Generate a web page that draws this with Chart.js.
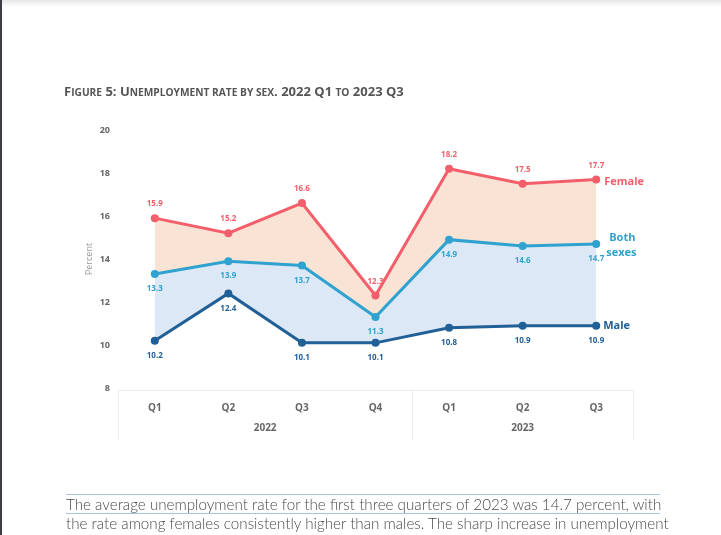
<!DOCTYPE html>
<html>
<head>
<meta charset="utf-8">
<script src="https://cdn.jsdelivr.net/npm/chart.js@4.4.1/dist/chart.umd.min.js"></script>
<style>
  html, body { margin: 0; padding: 0; background: #fff; }
  body { width: 721px; height: 535px; position: relative; overflow: hidden; }
  .edge-left { position: absolute; left: 0; top: 0; width: 2px; height: 535px; background: #3b3e42; }
  .edge-top { position: absolute; left: 0; top: 0; width: 721px; height: 7px; background: linear-gradient(#e6e6e6, #fff); }
  #chart { position: absolute; left: 0; top: 0; }
  .title { position: absolute; left: 64px; top: 82px; font-family: "Open Sans", sans-serif; font-weight: 700;
           font-size: 13px; color: #555; white-space: nowrap; }
  .title .sc { font-size: 10.2px; text-transform: uppercase; }
  .para { position: absolute; left: 66px; width: 594px; font-family: "Lato", sans-serif; font-weight: 300;
          font-size: 15.2px; color: #4a4a4a; white-space: nowrap; text-align: justify; text-align-last: justify;
          border-top: 1px solid #a8c3da; line-height: 18px; }
</style>
</head>
<body>
<div class="edge-top"></div>
<div class="edge-left"></div>
<canvas id="chart" width="721" height="535"></canvas>
<div class="title">F<span class="sc">igure</span> 5: U<span class="sc">nemployment rate by sex</span>. 2022 Q1 <span class="sc">to</span> 2023 Q3</div>
<div class="para" style="top:494px">The average unemployment rate for the first three quarters of 2023 was 14.7 percent, with</div>
<div class="para" style="top:513px">the rate among females consistently higher than males. The sharp increase in unemployment</div>
<script>
// data
const quarters = ['Q1', 'Q2', 'Q3', 'Q4', 'Q1', 'Q2', 'Q3'];
const yearLabels = ['2022', '2023'];
const quartersPerYear = [4, 3];
const female = [15.9, 15.2, 16.6, 12.3, 18.2, 17.5, 17.7];
const bothSexes = [13.3, 13.9, 13.7, 11.3, 14.9, 14.6, 14.7];
const male = [10.2, 12.4, 10.1, 10.1, 10.8, 10.9, 10.9];
const yTicks = [8, 10, 12, 14, 16, 18, 20];

const seriesNames = [['Female'], ['Both', 'sexes'], ['Male']];

// value labels + end-of-line names
const labelPlugin = {
    id: 'valueLabels',
    afterDatasetsDraw(chart) {
        const ctx = chart.ctx;
        ctx.save();
        ctx.textBaseline = 'middle';
        chart.data.datasets.forEach((ds, i) => {
            const meta = chart.getDatasetMeta(i);
            ctx.fillStyle = ds.borderColor;
            ctx.textAlign = 'center';
            ctx.font = 'bold 8px "Open Sans", sans-serif';
            meta.data.forEach((pt, j) => {
                ctx.fillText(ds.data[j].toFixed(1), pt.x, pt.y + ds.labelOffset);
            });
            // series name at the right end
            const last = meta.data[meta.data.length - 1];
            ctx.font = 'bold 11px "Open Sans", sans-serif';
            ctx.textAlign = 'left';
            const names = seriesNames[i];
            names.forEach((n, k) => {
                const dy = (k - (names.length - 1) / 2) * 15 + ds.nameShift;
                ctx.fillText(n, last.x + ds.nameDx + (k === 0 && names.length > 1 ? 3 : 0), last.y + dy);
            });
        });
        ctx.restore();
    }
};

// x-axis frame and year row
const yearAxisPlugin = {
    id: 'yearAxis',
    afterDraw(chart) {
        const ctx = chart.ctx;
        const x = chart.scales.x;
        const area = chart.chartArea;
        const top = area.bottom + 2;
        const bottom = top + 50;
        ctx.save();
        ctx.strokeStyle = '#ececec';
        ctx.lineWidth = 1;
        ctx.beginPath();
        ctx.moveTo(area.left, top + 0.5);
        ctx.lineTo(area.right, top + 0.5);
        let start = 0;
        const edges = [area.left];
        quartersPerYear.forEach((n) => {
            const endIdx = start + n - 1;
            const edge = endIdx < quarters.length - 1
                ? (x.getPixelForTick(endIdx) + x.getPixelForTick(endIdx + 1)) / 2
                : area.right;
            edges.push(edge);
            start += n;
        });
        edges.forEach((e) => {
            ctx.moveTo(Math.round(e) + 0.5, top);
            ctx.lineTo(Math.round(e) + 0.5, bottom);
        });
        ctx.stroke();

        ctx.fillStyle = '#666';
        ctx.font = 'bold 10px "Open Sans", sans-serif';
        ctx.textAlign = 'center';
        ctx.textBaseline = 'middle';
        start = 0;
        yearLabels.forEach((y, i) => {
            const endIdx = start + quartersPerYear[i] - 1;
            const cx = (x.getPixelForTick(start) + x.getPixelForTick(endIdx)) / 2;
            ctx.fillText(y, cx, area.bottom + 40);
            start += quartersPerYear[i];
        });
        ctx.restore();
    }
};

const ctx = document.getElementById('chart').getContext('2d');
new Chart(ctx, {
    type: 'line',
    data: {
        labels: quarters,
        datasets: [{
            label: 'Female',
            data: female,
            borderColor: '#f25f6b',
            backgroundColor: '#f9e3d5',
            pointBackgroundColor: '#f25f6b',
            fill: '+1',
            labelOffset: -14,
            nameDx: 8,
            nameShift: 2
        }, {
            label: 'Both sexes',
            data: bothSexes,
            borderColor: '#2fa2cf',
            backgroundColor: '#dce8f5',
            pointBackgroundColor: '#2fa2cf',
            fill: '+1',
            labelOffset: 15,
            nameDx: 10,
            nameShift: 1
        }, {
            label: 'Male',
            data: male,
            borderColor: '#215f97',
            backgroundColor: '#215f97',
            pointBackgroundColor: '#215f97',
            fill: false,
            labelOffset: 15,
            nameDx: 7,
            nameShift: 0
        }].map((d) => Object.assign(d, {
            borderWidth: 3,
            tension: 0,
            pointRadius: 4,
            pointBorderWidth: 0,
            pointBorderColor: d.borderColor
        }))
    },
    options: {
        responsive: false,
        animation: false,
        devicePixelRatio: 1,
        layout: {
            padding: { left: 80, top: 130, right: 88, bottom: 95 }
        },
        plugins: {
            legend: { display: false },
            tooltip: { enabled: false },
            // fills first, so no band paints over a neighbouring line
            filler: { drawTime: 'beforeDatasetsDraw' }
        },
        scales: {
            x: {
                offset: true,
                grid: { display: false },
                border: { display: false },
                ticks: {
                    color: '#666',
                    font: { family: '"Open Sans", sans-serif', size: 10, weight: 'bold' },
                    padding: 6
                },
                afterFit(scale) { scale.height = 52; }
            },
            y: {
                min: 8,
                max: 20,
                grid: { display: false },
                border: { display: false },
                afterBuildTicks(scale) { scale.ticks = yTicks.map((v) => ({ value: v })); },
                ticks: {
                    color: '#666',
                    font: { family: '"Open Sans", sans-serif', size: 9, weight: 'bold' },
                    padding: 0
                },
                title: {
                    display: true,
                    text: 'Percent',
                    color: '#999',
                    font: { family: '"Open Sans", sans-serif', size: 9 },
                    padding: 4
                },
                afterFit(scale) { scale.width = 38; }
            }
        }
    },
    plugins: [labelPlugin, yearAxisPlugin]
});
</script>
</body>
</html>
